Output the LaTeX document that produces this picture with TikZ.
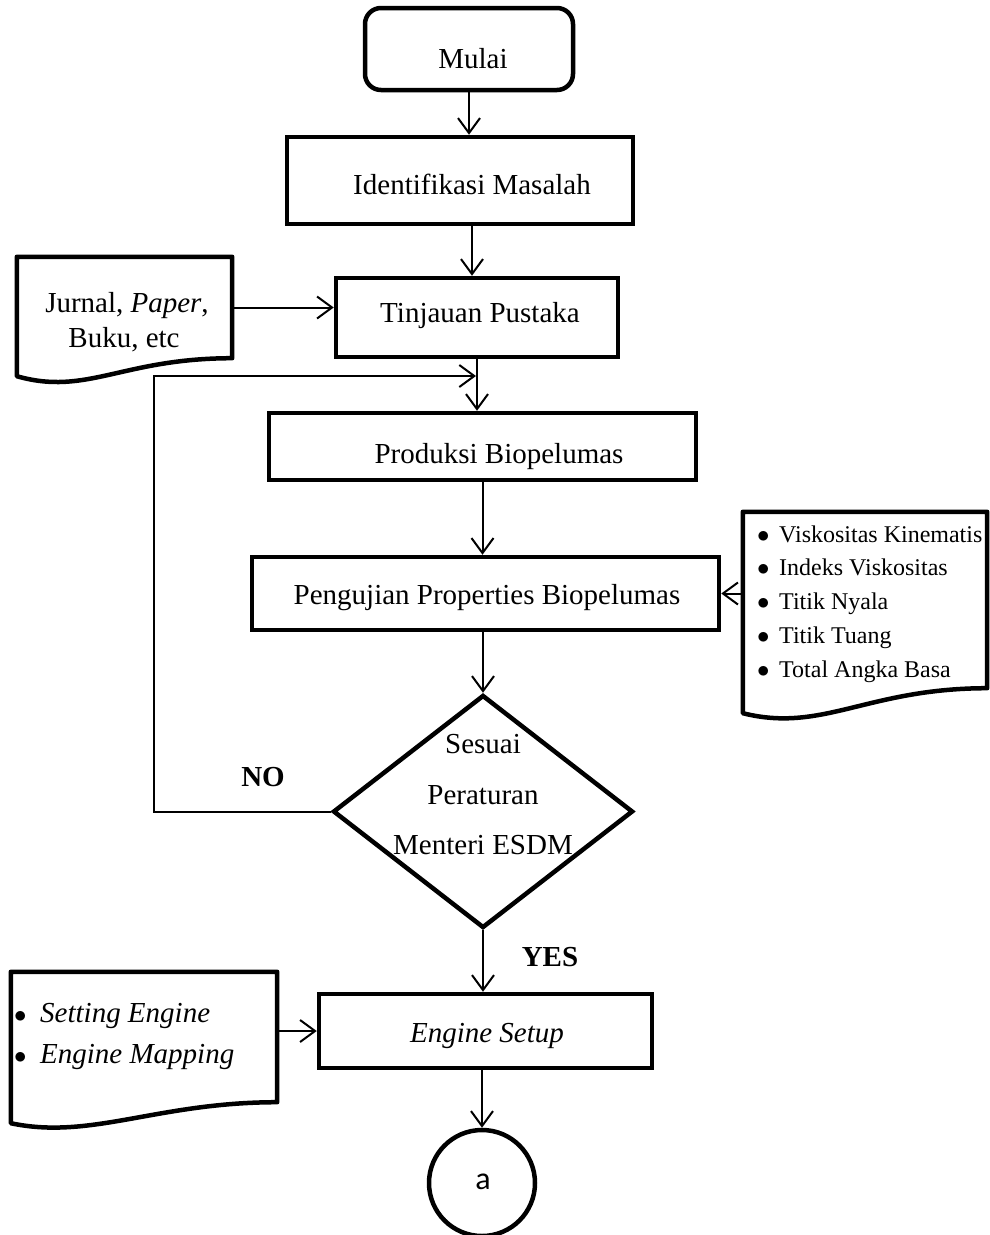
\documentclass[tikz,border=0pt]{standalone}
\usepackage{fontspec}
\setmainfont{Liberation Serif}
\newfontfamily\calib{Carlito}
\usetikzlibrary{arrows.meta,shapes.geometric,calc}
\begin{document}
\begin{tikzpicture}[x=1pt,y=-1pt,
  box/.style={draw, line width=4.5pt, rectangle, inner sep=0pt},
  frame/.style={inner sep=0pt},
  arr/.style={line width=2pt, -{Straight Barb[length=15pt,width=22pt]}},
  txt/.style={font=\fontsize{29}{34}\selectfont, inner sep=0pt, anchor=base},
  small/.style={font=\fontsize{24}{30}\selectfont, inner sep=0pt, anchor=base west},
  doc/.style={line width=4.5pt, line join=round}]
\useasboundingbox (0,0) rectangle (990,1235);

% --- main boxes
\node[box, rounded corners=16pt, minimum width=208pt, minimum height=82pt] (mulai) at (469,49) {};
\node[txt] (tmulai) at (473,68) {Mulai};

\node[box, minimum width=346pt, minimum height=87pt] (ident) at (460,180.5) {};
\node[txt] (tident) at (472,194) {Identifikasi Masalah};

\node[box, minimum width=282pt, minimum height=79pt] (tinj) at (477,317.5) {};
\node[txt] (ttinj) at (480,322) {Tinjauan Pustaka};

\node[box, minimum width=427pt, minimum height=67pt] (prod) at (482.5,446.5) {};
\node[txt] (tprod) at (499,463) {Produksi Biopelumas};

\node[box, minimum width=467pt, minimum height=73pt] (peng) at (485.5,593.5) {};
\node[txt] (tpeng) at (487,604) {Pengujian Properties Biopelumas};

\node[draw, shape=diamond, line width=4.5pt, inner sep=0pt, minimum width=300pt, minimum height=233pt] (dia) at (483,811.5) {};
\node[txt] (tdia1) at (483,753) {Sesuai};
\node[txt] (tdia2) at (483,804) {Peraturan};
\node[txt] (tdia3) at (483,854) {Menteri ESDM};

\node[box, minimum width=333pt, minimum height=74pt] (eng) at (485.5,1031) {};
\node[txt] (teng) at (487,1042) {\itshape Engine Setup};

\node[draw, circle, line width=4.5pt, inner sep=0pt, minimum size=106pt] (circ) at (482,1183) {};
\node[inner sep=0pt, anchor=base, font=\calib\fontsize{32}{40}\selectfont] (tcirc) at (483,1189) {a};

% --- labels
\node[txt] (lno) at (263,786) {\bfseries NO};
\node[txt] (lyes) at (550,966) {\bfseries YES};

% --- document: Jurnal
\node[frame, minimum width=215pt, minimum height=101pt] (jur) at (124.5,307.5) {};
\draw[doc] (jur.south east) -- (jur.north east) -- (jur.north west) -- ($(jur.south west)+(0,18)$)
  .. controls ($(jur.south west)+(70,38)$) and ($(jur.south east)+(-110,0)$) .. (jur.south east) -- cycle;
\node[txt] (tjur1) at (127,312) {Jurnal, \textit{Paper},};
\node[txt] (tjur2) at (124,347) {Buku, etc};

% --- document: properties
\node[frame, minimum width=244pt, minimum height=176pt] (rdoc) at (865,600) {};
\draw[doc] (rdoc.south east) -- (rdoc.north east) -- (rdoc.north west) -- ($(rdoc.south west)+(0,25)$)
  .. controls ($(rdoc.south west)+(80,45)$) and ($(rdoc.south east)+(-120,0)$) .. (rdoc.south east) -- cycle;
\node[small] (r1) at (757,542) {\makebox[22pt][l]{$\bullet$}Viskositas Kinematis};
\node[small] (r2) at (757,575.5) {\makebox[22pt][l]{$\bullet$}Indeks Viskositas};
\node[small] (r3) at (757,609.5) {\makebox[22pt][l]{$\bullet$}Titik Nyala};
\node[small] (r4) at (757,643) {\makebox[22pt][l]{$\bullet$}Titik Tuang};
\node[small] (r5) at (757,677) {\makebox[22pt][l]{$\bullet$}Total Angka Basa};

% --- document: engine
\node[frame, minimum width=266pt, minimum height=130pt] (ldoc) at (144,1037) {};
\draw[doc] (ldoc.south east) -- (ldoc.north east) -- (ldoc.north west) -- ($(ldoc.south west)+(0,21)$)
  .. controls ($(ldoc.south west)+(80,38)$) and ($(ldoc.south east)+(-120,0)$) .. (ldoc.south east) -- cycle;
\node[txt, anchor=base west] (l1) at (14,1022) {\makebox[26pt][l]{$\bullet$}\textit{Setting Engine}};
\node[txt, anchor=base west] (l2) at (14,1063) {\makebox[26pt][l]{$\bullet$}\textit{Engine Mapping}};

% --- connectors
\coordinate (fb) at (154,376);
\draw[arr] (mulai.south) -- (mulai.south |- ident.north);
\draw[arr] ([xshift=12pt]ident.south) -- ([xshift=12pt]ident.south |- tinj.north);
\draw[arr] (jur.east) -- (jur.east -| tinj.west);
\draw[arr] (tinj.south) -- (tinj.south |- prod.north);
\draw[arr] (prod.south) -- (prod.south |- peng.north);
\draw[arr] (rdoc.west |- peng.east) -- (peng.east);
\draw[arr] (peng.south -| dia.north) -- (dia.north);
\draw[arr, shorten >=1pt] (dia.west) -| (fb) -- (fb -| tinj.south);
\draw[arr] (dia.south) -- (dia.south |- eng.north);
\draw[arr] (ldoc.east |- eng.west) -- (eng.west);
\draw[arr] (eng.south -| circ.north) -- (circ.north);
\end{tikzpicture}
\end{document}
